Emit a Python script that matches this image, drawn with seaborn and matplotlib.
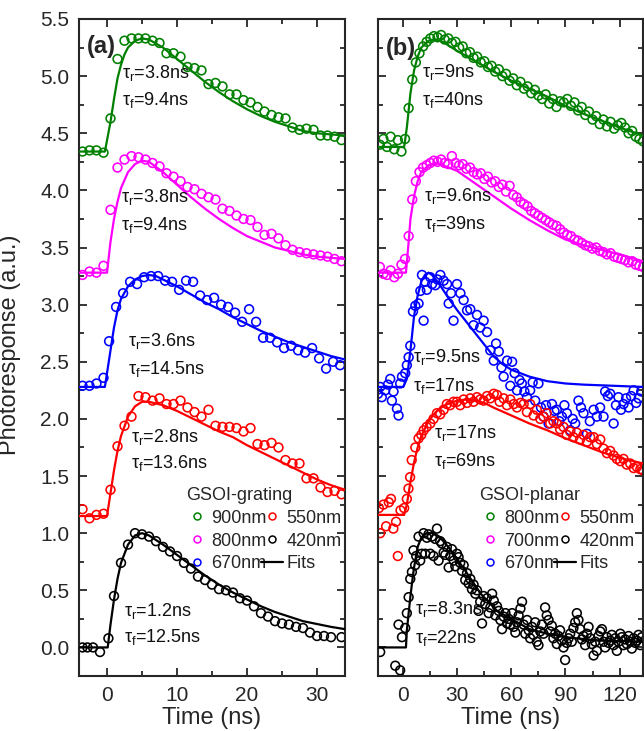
import matplotlib
matplotlib.use("Agg")
import matplotlib.pyplot as plt
import seaborn as sns
from matplotlib.lines import Line2D
from matplotlib.ticker import MultipleLocator

sns.set_style("ticks")
plt.rcParams['font.family'] = ['Liberation Sans', 'DejaVu Sans']
plt.rcParams['mathtext.fontset'] = 'custom'
plt.rcParams['mathtext.rm'] = 'Liberation Sans'
plt.rcParams['mathtext.it'] = 'Liberation Sans:italic'

# ---------------- Panel (a) : GSOI-grating ----------------
a_t_base = [-3.5, -2.5, -1.5, -0.5]
a_t_half = [i + 0.5 for i in range(34)]  # 0.5 .. 33.5

a_green_t = a_t_base + a_t_half
a_green_v = [4.34, 4.35, 4.35, 4.33,
             4.63, 5.15, 5.31, 5.33, 5.33, 5.33, 5.31, 5.29, 5.20, 5.20,
             5.17, 5.08, 5.07, 5.05, 4.93, 4.94, 4.91, 4.84, 4.84, 4.79,
             4.77, 4.73, 4.69, 4.66, 4.64, 4.63, 4.55, 4.53, 4.54, 4.53,
             4.48, 4.48, 4.47, 4.44]
a_green_fit_t = [-4, -0.3, 0.5, 1, 1.5, 2, 2.5, 3, 4, 5, 6, 8, 10, 12, 14, 16, 18, 20, 22, 24, 26, 28, 30, 32, 34]
a_green_fit_v = [4.34, 4.34, 4.60, 4.80, 4.98, 5.10, 5.19, 5.25, 5.31, 5.33, 5.32, 5.25, 5.15, 5.05, 4.95,
                 4.86, 4.78, 4.71, 4.65, 4.60, 4.56, 4.52, 4.50, 4.49, 4.48]

a_magenta_t = a_t_base + a_t_half
a_magenta_v = [3.26, 3.29, 3.28, 3.34,
               3.83, 4.20, 4.27, 4.30, 4.29, 4.27, 4.24, 4.21, 4.15, 4.12,
               4.08, 4.03, 4.01, 3.97, 3.94, 3.92, 3.84, 3.82, 3.78, 3.75,
               3.74, 3.68, 3.61, 3.62, 3.58, 3.52, 3.48, 3.46, 3.45, 3.44,
               3.43, 3.42, 3.40, 3.38]
a_magenta_fit_t = [-4, 0, 0.5, 1, 1.5, 2, 3, 4, 5, 6, 8, 10, 12, 14, 16, 18, 20, 22, 24, 26, 28, 30, 32, 34]
a_magenta_fit_v = [3.28, 3.28, 3.55, 3.75, 3.90, 4.02, 4.16, 4.23, 4.26, 4.25, 4.16, 4.05, 3.94, 3.84,
                   3.75, 3.67, 3.60, 3.55, 3.50, 3.47, 3.44, 3.42, 3.41, 3.40]

a_blue_t = a_t_base + [i + 0.3 for i in range(34)]
a_blue_v = [2.29, 2.29, 2.31, 2.36,
            2.68, 2.98, 3.10, 3.20, 3.18, 3.24, 3.25, 3.25, 3.21, 3.20,
            3.13, 3.21, 3.20, 3.08, 3.04, 3.06, 3.00, 2.98, 2.93, 2.85,
            2.96, 2.85, 2.71, 2.71, 2.67, 2.62, 2.64, 2.60, 2.58, 2.62,
            2.53, 2.44, 2.50, 2.47]
a_blue_fit_t = [-4, -0.3, 0.5, 1, 1.5, 2, 3, 4, 5, 6, 7, 8, 10, 12, 14, 16, 18, 20, 22, 24, 26, 28, 30, 32, 34]
a_blue_fit_v = [2.28, 2.28, 2.60, 2.80, 2.95, 3.05, 3.16, 3.22, 3.25, 3.26, 3.25, 3.22, 3.16, 3.09, 3.02,
                2.96, 2.89, 2.83, 2.77, 2.72, 2.67, 2.63, 2.59, 2.55, 2.52]

a_red_t = a_t_base + a_t_half
a_red_v = [1.21, 1.13, 1.16, 1.17,
           1.38, 1.76, 1.94, 2.02, 2.20, 2.19, 2.16, 2.18, 2.13, 2.13,
           2.16, 2.10, 2.06, 2.02, 2.08, 1.94, 1.93, 1.93, 1.92, 1.89,
           1.92, 1.78, 1.77, 1.79, 1.75, 1.64, 1.61, 1.61, 1.48, 1.48,
           1.40, 1.36, 1.37, 1.34]
a_red_fit_t = [-4, 0, 0.5, 1, 1.5, 2, 3, 4, 5, 6, 8, 10, 12, 14, 16, 18, 20, 22, 24, 26, 28, 30, 32, 34]
a_red_fit_v = [1.15, 1.15, 1.35, 1.55, 1.72, 1.85, 2.02, 2.11, 2.15, 2.15, 2.12, 2.07, 2.01, 1.95,
               1.89, 1.84, 1.77, 1.71, 1.65, 1.59, 1.53, 1.47, 1.42, 1.38]

a_black_t = [-3.5, -2.8, -2.0, -1.0, 0.2] + [i + 1.0 for i in range(32)] + [33.5]
a_black_v = [0.00, 0.00, 0.00, -0.04, 0.08,
             0.45, 0.74, 0.90, 1.00, 0.99, 0.97, 0.93, 0.88, 0.84, 0.80,
             0.74, 0.69, 0.62, 0.59, 0.55, 0.51, 0.50, 0.48, 0.43, 0.41,
             0.36, 0.30, 0.27, 0.23, 0.21, 0.20, 0.18, 0.17, 0.13, 0.10,
             0.10, 0.09, 0.09]
a_black_fit_t = [-4, 0.1, 0.5, 1, 1.5, 2, 3, 4, 5, 6, 8, 10, 12, 14, 16, 18, 20, 22, 24, 26, 28, 30, 32, 34]
a_black_fit_v = [0.0, 0.0, 0.20, 0.42, 0.60, 0.74, 0.90, 0.98, 1.00, 0.98, 0.90, 0.81, 0.72, 0.63,
                 0.55, 0.48, 0.42, 0.36, 0.31, 0.27, 0.23, 0.205, 0.18, 0.16]

# ---------------- Panel (b) : GSOI-planar ----------------
b_t2 = [-13, -11, -9, -7, -5, -3, -1] + [1 + 2 * i for i in range(67)]  # -13 .. 133

b_green_t = b_t2
b_green_v = [4.40, 4.45, 4.38, 4.47, 4.36, 4.44, 4.34,
             4.45, 4.72, 4.97, 5.12, 5.20, 5.26, 5.30, 5.33, 5.35, 5.34,
             5.36, 5.32, 5.33, 5.29, 5.30, 5.25, 5.26, 5.20, 5.21, 5.16,
             5.17, 5.12, 5.13, 5.08, 5.09, 5.04, 5.06, 5.00, 5.02, 4.96,
             4.98, 4.92, 4.95, 4.89, 4.91, 4.85, 4.88, 4.83, 4.80, 4.84,
             4.76, 4.80, 4.73, 4.78, 4.77, 4.80, 4.74, 4.77, 4.70, 4.73,
             4.66, 4.69, 4.62, 4.65, 4.58, 4.62, 4.56, 4.60, 4.54, 4.57,
             4.59, 4.55, 4.50, 4.52, 4.47, 4.45, 4.43]
b_green_fit_t = [-14, 0.5, 2, 4, 6, 8, 10, 14, 18, 22, 30, 40, 50, 60, 70, 80, 90, 100, 110, 120, 133]
b_green_fit_v = [4.38, 4.38, 4.55, 4.85, 5.05, 5.17, 5.25, 5.31, 5.32, 5.30, 5.22, 5.13, 5.04, 4.96,
                 4.89, 4.82, 4.74, 4.67, 4.61, 4.55, 4.48]

b_magenta_t = b_t2
b_magenta_v = [3.33, 3.27, 3.26, 3.30, 3.24, 3.27, 3.35,
               3.40, 3.60, 3.92, 4.08, 4.16, 4.20, 4.22, 4.24, 4.26, 4.25,
               4.27, 4.24, 4.23, 4.30, 4.24, 4.22, 4.23, 4.19, 4.20, 4.16,
               4.14, 4.15, 4.10, 4.12, 4.07, 4.08, 4.03, 4.05, 3.99, 4.04,
               3.96, 3.94, 3.90, 3.88, 3.86, 3.82, 3.80, 3.78, 3.76, 3.74,
               3.72, 3.70, 3.69, 3.66, 3.63, 3.61, 3.60, 3.57, 3.56, 3.54,
               3.52, 3.51, 3.49, 3.50, 3.47, 3.46, 3.44, 3.45, 3.42, 3.41,
               3.40, 3.39, 3.37, 3.38, 3.35, 3.34, 3.33]
b_magenta_fit_t = [-14, 1.5, 3, 4, 6, 8, 10, 14, 18, 22, 30, 40, 50, 60, 70, 80, 90, 100, 110, 120, 133]
b_magenta_fit_v = [3.28, 3.28, 3.55, 3.75, 3.95, 4.08, 4.16, 4.22, 4.24, 4.22, 4.17, 4.06, 3.95, 3.84,
                   3.74, 3.65, 3.57, 3.52, 3.48, 3.44, 3.38]

b_blue_t = [-14, -12.8, -11.9, -10, -8.5, -7.2, -6.3, -5.4, -3.5, -2.6, -1.7, -0.7, 1.1, 2.0, 3.0,
            3.9, 5.4, 6.7, 8.5, 9.5, 10.4, 11.3, 12.2, 13.1, 15, 16, 17.8, 19, 20.6, 22.4, 24.3,
            25.2, 26.5, 27.9, 29.8, 31.7, 33.5, 35.4, 37.2, 39, 40.9, 42.7, 44.6, 46.5, 48.3,
            50.2, 51.5, 53, 54.5, 55.7, 57.6, 59.4, 60.4, 61.8, 63.1, 64.5, 65.8, 67.2, 68.6,
            70.4, 71.8, 73.2, 75, 76.4, 77.8, 79.2, 80.6, 82.5, 83.9, 85.2, 86.6, 88, 89.4,
            90.8, 92.6, 94, 95.4, 97.2, 98.6, 100, 101.9, 103.5, 105.6, 107.4, 109.2, 111.1,
            112, 113.5, 114.8, 116.7, 118, 119.4, 120.8, 122.2, 123.6, 125, 126.4, 127.8,
            129.2, 130.6, 132]
b_blue_v = [2.22, 2.28, 2.19, 2.25, 2.30, 2.35, 2.16, 2.24, 2.09, 2.03, 2.31, 2.37, 2.40, 2.47, 2.54,
            2.64, 2.94, 2.99, 3.01, 3.12, 3.26, 2.86, 3.20, 3.13, 3.24, 3.18, 3.17, 3.22, 3.26, 3.21, 3.18,
            3.01, 3.10, 2.86, 3.18, 3.10, 3.04, 2.95, 2.96, 2.82, 2.91, 2.80, 2.86, 2.76, 2.60,
            2.51, 2.66, 2.59, 2.45, 2.37, 2.51, 2.29, 2.50, 2.40, 2.25, 2.34, 2.31, 2.24, 2.19,
            2.25, 2.32, 2.16, 2.31, 2.10, 2.02, 2.12, 1.96, 2.13, 2.07, 2.08, 1.98, 2.02, 2.12,
            2.05, 1.90, 2.00, 1.96, 2.16, 2.10, 2.05, 1.87, 1.98, 2.08, 2.02, 2.10, 2.02,
            2.24, 2.20, 2.22, 1.96, 2.12, 2.19, 2.08, 2.13, 2.18, 2.10, 2.20, 2.25,
            2.14, 2.18, 2.24]
b_blue_fit_t = [-14, 0, 2, 4, 6, 8, 10, 12, 14, 16, 20, 25, 30, 35, 40, 45, 50, 55, 60, 70, 80, 90, 100, 133]
b_blue_fit_v = [2.28, 2.28, 2.35, 2.60, 2.90, 3.08, 3.20, 3.26, 3.28, 3.26, 3.18, 3.06, 2.95, 2.85,
                2.75, 2.65, 2.55, 2.48, 2.43, 2.37, 2.33, 2.31, 2.30, 2.28]

b_red_t = [-13.5, -12.8, -11, -9.5, -8, -6.8, -5.5, -4, -3, -1.5, 0.5,
           2, 2.9, 3.8, 4.7, 6.7, 8.5, 10, 11.3, 13, 15, 16.8, 18.7, 20.5, 22.4, 24.2, 26, 27.9,
           29.8, 31.6, 33.5, 35.4, 37.2, 39, 40.9, 42.7, 44.6, 46.5, 48.3, 50.2, 52, 53.5, 55.7,
           57.5, 59.4, 61.3, 63.1, 65, 66.8, 68.6, 70.4, 72.3, 74.1, 76, 77.8, 79.6, 81.5, 83.3,
           85.2, 87, 88.9, 90.7, 92.6, 94.4, 96.3, 98.1, 100, 101.9, 103.7, 105.6, 107.4, 109.3,
           111.1, 113, 114.8, 116.7, 118.5, 120.4, 122.2, 124, 125.9, 127.8, 129.6, 131.5, 133]
b_red_v = [1.22, 1.00, 1.25, 1.06, 1.27, 1.30, 1.04, 1.10, 0.80, 1.20, 1.22,
           1.30, 1.39, 1.49, 1.64, 1.75, 1.83, 1.86, 1.90, 1.93, 1.96, 2.00, 2.05, 2.04, 2.08, 2.13, 2.12, 2.15,
           2.15, 2.12, 2.17, 2.14, 2.18, 2.15, 2.19, 2.17, 2.16, 2.20, 2.18, 2.22, 2.21, 2.15, 2.18,
           2.12, 2.17, 2.13, 2.10, 2.14, 2.13, 2.06, 2.13, 2.03, 2.08, 2.00, 2.02, 2.05, 1.96, 1.98,
           1.96, 1.91, 1.93, 1.86, 1.89, 1.84, 1.88, 1.82, 1.86, 1.80, 1.84, 1.84, 1.78, 1.82,
           1.74, 1.70, 1.72, 1.68, 1.65, 1.63, 1.65, 1.60, 1.61, 1.57, 1.58, 1.56, 1.55]
b_red_fit_t = [-14, 0.5, 2, 4, 6, 8, 10, 14, 18, 22, 26, 30, 35, 40, 45, 50, 60, 70, 80, 90, 100, 110, 120, 133]
b_red_fit_v = [1.16, 1.16, 1.25, 1.45, 1.62, 1.75, 1.85, 1.98, 2.06, 2.11, 2.14, 2.16, 2.17, 2.16,
               2.14, 2.10, 2.03, 1.96, 1.90, 1.83, 1.77, 1.71, 1.66, 1.61]

b_black_t = [-12.8, -4.4, -2.6, -1.7, -0.7,
             1.1, 2, 3, 3.9, 4.8, 5.7, 6.6, 7.2, 8.5, 9.4, 10.3, 11.3, 12.2, 13.1, 14, 15, 15.9,
             16.8, 17.7, 18.7, 19.6, 20.5, 21.4, 22.4, 23.3, 24.2, 25.2, 26.1, 27, 28, 28.9, 29.8,
             30.7, 31.6, 32.6, 33.5, 34.4, 35.4, 36.3, 37.2, 38.1, 39, 40, 40.9, 41.8, 42.7, 43.7,
             44.6, 45.5, 46.5, 47.4, 48.3, 49.3, 50.2, 51.1, 52, 53, 53.9, 54.8, 55.7, 56.7, 57.6,
             58.5, 59.4, 60.4, 61.3, 62.2, 63.1, 64, 65, 65.9, 66.8, 67.7, 68.7, 69.6, 70.4, 71.4,
             72.2, 73.2, 74.1, 75, 76, 76.9, 77.8, 78.7, 79.6, 80.6, 81.5, 82.4, 83.3, 84.3, 85.2,
             86.1, 87, 88, 88.9, 89.8, 90.7, 91.7, 92.6, 93.5, 94.4, 95.4, 96.3, 97.2, 98.1, 99.1,
             100, 100.9, 101.9, 102.8, 103.7, 104.6, 105.6, 106.5, 107.4, 108.3, 109.3, 110.2,
             111.1, 112, 113, 113.9, 114.8, 115.7, 116.7, 117.6, 118.5, 119.4, 120.4, 121.3,
             122.2, 123.1, 124.1, 125, 125.9, 126.8, 127.8, 128.7, 129.6, 130.5, 131.5, 132.4]
b_black_v = [-0.04, -0.16, 0.20, -0.20, 0.09,
             0.17, 0.30, 0.44, 0.60, 0.66, 0.85, 0.72, 0.80, 0.97, 0.76, 0.82, 1.00, 0.82, 0.96, 0.99, 0.82, 0.97,
             0.80, 0.95, 1.04, 0.76, 0.93, 0.91, 0.83, 0.81, 0.88, 0.70, 0.80, 0.86, 0.76, 0.71, 0.82,
             0.79, 0.74, 0.67, 0.72, 0.59, 0.65, 0.56, 0.60, 0.51, 0.55, 0.47, 0.50, 0.32, 0.40, 0.21,
             0.45, 0.38, 0.43, 0.30, 0.35, 0.47, 0.41, 0.28, 0.36, 0.32, 0.24, 0.16, 0.27, 0.30, 0.21,
             0.25, 0.20, 0.30, 0.18, 0.13, 0.22, 0.28, 0.34, 0.40, 0.20, 0.12, 0.24, 0.15, 0.08, 0.18,
             0.11, 0.22, 0.05, 0.02, 0.14, 0.20, 0.12, 0.35, 0.28, 0.24, 0.14, 0.19, 0.08, 0.12, 0.03,
             0.10, 0.15, 0.06, 0.00, -0.11, 0.04, 0.08, 0.12, 0.05, 0.17, 0.22, 0.30, 0.24, 0.16, 0.07,
             0.10, 0.02, 0.12, 0.18, 0.08, 0.03, -0.07, 0.05, -0.03, 0.10, 0.14, 0.16,
             0.05, 0.00, 0.09, 0.04, 0.06, 0.11, 0.02, 0.08, -0.03, 0.05, 0.12, 0.09,
             0.02, 0.07, 0.03, 0.10, 0.05, -0.01, 0.08, 0.04, 0.06, 0.11, 0.02, 0.09]
b_black_fit_t = [-14, 1.5, 2, 3, 4, 5, 6, 8, 10, 13, 16, 20, 26, 34, 43, 52, 61, 70, 80, 90, 108, 133]
b_black_fit_v = [0.0, 0.0, 0.15, 0.30, 0.45, 0.58, 0.70, 0.88, 0.96, 1.00, 1.00, 0.97, 0.86, 0.68,
                 0.47, 0.32, 0.24, 0.16, 0.12, 0.09, 0.06, 0.05]

# annotations: (x, y_r, y_f, tau_r, tau_f)
a_notes = [(2.1, 5.03, 4.79, "3.8", "9.4", ), (2.0, 3.94, 3.70, "3.8", "9.4"),
           (3.0, 2.68, 2.44, "3.6", "14.5"), (3.4, 1.84, 1.61, "2.8", "13.6"),
           (2.4, 0.32, 0.09, "1.2", "12.5")]
b_notes = [(10.4, 5.04, 4.79, "9", "40"), (11.3, 3.95, 3.71, "9.6", "39"),
           (5.4, 2.54, 2.29, "9.5", "17"), (16.9, 1.88, 1.63, "17", "69"),
           (6.7, 0.34, 0.085, "8.3", "22")]

colors = ['#008000', '#ff00ff', '#0000ff', '#ff0000', '#000000']
a_labels = ['900nm', '800nm', '670nm', '550nm', '420nm']
b_labels = ['800nm', '700nm', '670nm', '550nm', '420nm']

fig = plt.figure(figsize=(6.44, 7.31), dpi=100)
W, H = 644, 731
ax_a = fig.add_axes([79 / W, (H - 676) / H, 266 / W, 657 / H])
ax_b = fig.add_axes([378 / W, (H - 676) / H, 265 / W, 657 / H])


def draw_series(ax, t, v, ft, fv, color):
    sns.scatterplot(x=t, y=v, ax=ax, s=40, marker='o', color=color, linewidth=1.15,
                    legend=False, zorder=2)
    coll = ax.collections[-1]
    coll.set_facecolor('none')
    coll.set_edgecolor(color)
    sns.lineplot(x=ft, y=fv, ax=ax, color=color, lw=1.6, sort=False, estimator=None,
                 legend=False, zorder=3)


a_series = [(a_green_t, a_green_v, a_green_fit_t, a_green_fit_v),
            (a_magenta_t, a_magenta_v, a_magenta_fit_t, a_magenta_fit_v),
            (a_blue_t, a_blue_v, a_blue_fit_t, a_blue_fit_v),
            (a_red_t, a_red_v, a_red_fit_t, a_red_fit_v),
            (a_black_t, a_black_v, a_black_fit_t, a_black_fit_v)]
b_series = [(b_green_t, b_green_v, b_green_fit_t, b_green_fit_v),
            (b_magenta_t, b_magenta_v, b_magenta_fit_t, b_magenta_fit_v),
            (b_blue_t, b_blue_v, b_blue_fit_t, b_blue_fit_v),
            (b_red_t, b_red_v, b_red_fit_t, b_red_fit_v),
            (b_black_t, b_black_v, b_black_fit_t, b_black_fit_v)]

for s, c in zip(a_series, colors):
    draw_series(ax_a, *s, c)
for s, c in zip(b_series, colors):
    draw_series(ax_b, *s, c)

for ax, notes in ((ax_a, a_notes), (ax_b, b_notes)):
    for x, yr, yf, tr, tf in notes:
        ax.text(x, yr, r"τ$_\mathrm{r}$=" + tr + "ns", fontsize=13, va='center', ha='left', color='#111111')
        ax.text(x, yf, r"τ$_\mathrm{f}$=" + tf + "ns", fontsize=13, va='center', ha='left', color='#111111')

ax_a.set_xlim(-4, 34)
ax_b.set_xlim(-14, 133)
for ax in (ax_a, ax_b):
    ax.set_ylim(-0.25, 5.5)
    ax.yaxis.set_major_locator(MultipleLocator(0.5))
    ax.yaxis.set_minor_locator(MultipleLocator(0.25))
    for sp in ax.spines.values():
        sp.set_linewidth(1.5)
        sp.set_visible(True)
    ax.tick_params(which='both', direction='in', top=True, right=True, width=1.3, labelsize=15)
    ax.tick_params(which='major', length=6)
    ax.tick_params(which='minor', length=3.5)
    ax.tick_params(axis='x', pad=7)
    ax.tick_params(axis='y', pad=7)
    ax.set_xlabel("Time (ns)", fontsize=17)
    ax.xaxis.set_label_coords(0.5, -0.047)
    ax.set_ylabel("")
ax_a.xaxis.set_major_locator(MultipleLocator(10))
ax_a.xaxis.set_minor_locator(MultipleLocator(5))
ax_b.xaxis.set_major_locator(MultipleLocator(30))
ax_b.xaxis.set_minor_locator(MultipleLocator(15))
ax_a.yaxis.set_major_formatter(matplotlib.ticker.FormatStrFormatter('%.1f'))
ax_b.tick_params(labelleft=False)

ax_a.set_ylabel("Photoresponse (a.u.)", fontsize=17)
ax_a.yaxis.set_label_coords(-0.218, 0.504)

ax_a.text(0.03, 0.975, "(a)", transform=ax_a.transAxes, fontsize=17, fontweight='bold', va='top', ha='left')
ax_b.text(0.028, 0.972, "(b)", transform=ax_b.transAxes, fontsize=17, fontweight='bold', va='top', ha='left')


def make_legend(ax, labels, title, anchor):
    handles = [Line2D([], [], ls='none', marker='o', markersize=5, mfc='none', mec=c, mew=1.1)
               for c in colors]
    handles.append(Line2D([], [], color='black', lw=1.6))
    labs = list(labels) + ['Fits']
    leg = ax.legend(handles, labs, title=title, ncol=2, frameon=False, fontsize=13,
                    title_fontsize=13, handlelength=1.2, handletextpad=0.2, columnspacing=-0.3,
                    labelspacing=0.32, borderpad=0, borderaxespad=0, alignment='left',
                    loc='upper left', bbox_to_anchor=anchor, bbox_transform=ax.transAxes)
    return leg


make_legend(ax_a, a_labels, "GSOI-grating", ((186 - 79) / 266, (676 - 487) / 657))
make_legend(ax_b, b_labels, "GSOI-planar", ((479 - 378) / 265, (676 - 487) / 657))

fig.savefig("out.png", dpi=100)
